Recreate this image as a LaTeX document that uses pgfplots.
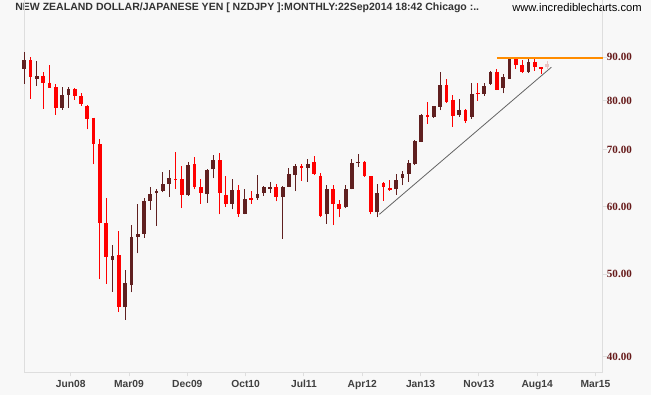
\documentclass[border=0pt]{standalone}
\usepackage{pgfplots}
\pgfplotsset{compat=1.18}
\usepackage{fontspec}
\setmainfont{Liberation Sans}
\newfontfamily\tickserif{Liberation Serif}
\definecolor{bull}{RGB}{96,32,32}
\definecolor{bear}{RGB}{255,0,0}
\definecolor{pale}{RGB}{232,196,196}
\definecolor{bg}{RGB}{248,248,248}
\definecolor{framec}{RGB}{222,222,222}
\definecolor{ylab}{RGB}{102,26,26}
\definecolor{xlab}{RGB}{64,64,64}
\definecolor{ttl}{RGB}{51,51,51}
\definecolor{res}{RGB}{255,140,0}
\definecolor{trend}{RGB}{100,100,100}
\begin{document}
\begin{tikzpicture}
\path[fill=bg, use as bounding box] (0,0) rectangle (488.25pt,296.25pt);
\node[anchor=base west, inner sep=0pt, text=ttl, font=\bfseries\fontsize{7.9}{9}\selectfont] at (11.25pt,288pt) {NEW ZEALAND DOLLAR/JAPANESE YEN [ NZDJPY ]:MONTHLY:22Sep2014 18:42 Chicago :..};
\node[anchor=base east, inner sep=0pt, text=black, font=\fontsize{8.4}{9}\selectfont] at (481.5pt,287.5pt) {www.incrediblecharts.com};
\begin{axis}[
  at={(18.225pt,17.025pt)}, anchor=south west,
  scale only axis, width=433.8pt, height=279.225pt,
  xmin=0, xmax=91.79, ymin=38.33, ymax=105.1,
  ymode=log,
  axis x line*=bottom, axis y line*=right,
  axis line style={draw=framec, line width=0.75pt},
  clip=false,
  unbounded coords=jump,
  xtick={7.364,16.618,25.872,35.126,44.380,53.634,62.888,72.142,81.396,90.650},
  xticklabels={Jun08,Mar09,Dec09,Oct10,Jul11,Apr12,Jan13,Nov13,Aug14,Mar15},
  ytick={40,50,60,70,80,90},
  yticklabels={40.00,50.00,60.00,70.00,80.00,90.00},
  yminorticks=false, xminorticks=false,
  tick style={draw=framec, line width=0.75pt},
  tick align=outside, major tick length=3pt,
  xticklabel style={font=\bfseries\fontsize{7.7}{8}\selectfont, text=xlab, inner sep=0pt, anchor=north, yshift=-2.6pt},
  yticklabel style={font=\tickserif\bfseries\fontsize{8.3}{9}\selectfont, text=ylab, anchor=west, inner sep=0pt},
]
\draw[framec, line width=0.75pt] (rel axis cs:0,0) -- (rel axis cs:0,1);
% bull wicks (low, high)
\addplot[bull, line width=0.75pt, mark=none] coordinates {
(0,83.8)(0,91.3)(0,nan) (2,83.3)(2,89.1)(2,nan) (6,78.1)(6,83.0)(6,nan) (7,78.5)(7,83.0)(7,nan)
(14,47.7)(14,54.1)(14,nan) (16,44.2)(16,50.5)(16,nan) (17,47.6)(17,57.1)(17,nan) (18,52.9)(18,60.4)(18,nan)
(19,55.2)(19,61.4)(19,nan) (20,59.5)(20,63.3)(20,nan) (21,57.0)(21,62.9)(21,nan) (22,62.4)(22,65.9)(22,nan)
(23,61.7)(23,66.3)(23,nan) (26,61.8)(26,67.7)(26,nan) (29,60.7)(29,66.4)(29,nan) (30,64.8)(30,69.1)(30,nan)
(33,59.6)(33,64.7)(33,nan) (35,58.8)(35,62.9)(35,nan) (37,61.2)(37,65.4)(37,nan) (38,61.8)(38,63.5)(38,nan)
(39,62.3)(39,64.2)(39,nan) (41,55.0)(41,63.5)(41,nan) (42,63.3)(42,66.7)(42,nan) (43,62.6)(43,67.4)(43,nan)
(45,64.2)(45,68.3)(45,nan) (48,57.3)(48,63.7)(48,nan) (51,59.8)(51,63.7)(51,nan) (52,62.9)(52,68.3)(52,nan)
(53,66.8)(53,69.2)(53,nan) (56,58.3)(56,63.9)(56,nan) (59,62.0)(59,65.6)(59,nan) (60,63.6)(60,66.1)(60,nan)
(61,64.2)(61,68.1)(61,nan) (62,67.2)(62,71.9)(62,nan) (63,71.5)(63,77.1)(63,nan) (65,76.4)(65,78.9)(65,nan)
(66,78.0)(66,86.5)(66,nan) (69,76.6)(69,80.4)(69,nan) (71,76.2)(71,83.9)(71,nan) (73,81.1)(73,84.0)(73,nan)
(74,83.5)(74,86.7)(74,nan) (76,81.6)(76,86.1)(76,nan) (77,84.8)(77,89.7)(77,nan) (80,86.2)(80,89.6)(80,nan)
};
% bear wicks
\addplot[bear, line width=0.75pt, mark=none] coordinates {
(1,80.4)(1,90.1)(1,nan) (3,78.3)(3,86.5)(3,nan) (4,82.9)(4,88.1)(4,nan) (5,77.0)(5,83.7)(5,nan)
(8,80.2)(8,82.8)(8,nan) (9,78.9)(9,81.7)(9,nan) (10,74.0)(10,79.0)(10,nan) (11,67.3)(11,76.4)(11,nan)
(12,49.3)(12,72.1)(12,nan) (13,48.7)(13,61.5)(13,nan) (15,45.1)(15,56.2)(15,nan) (24,63.0)(24,69.6)(24,nan)
(25,59.8)(25,67.0)(25,nan) (27,62.9)(27,68.7)(27,nan) (28,60.5)(28,64.7)(28,nan) (31,58.8)(31,69.4)(31,nan)
(32,60.0)(32,65.3)(32,nan) (34,58.4)(34,63.7)(34,nan) (36,60.5)(36,62.7)(36,nan) (40,60.9)(40,63.9)(40,nan)
(44,64.4)(44,67.3)(44,nan) (46,65.4)(46,68.9)(46,nan) (47,58.3)(47,65.7)(47,nan) (49,57.1)(49,63.6)(49,nan)
(50,58.3)(50,61.1)(50,nan) (54,65.1)(54,67.9)(54,nan) (55,58.8)(55,65.3)(55,nan) (57,61.0)(57,64.2)(57,nan)
(58,62.7)(58,64.6)(58,nan) (64,75.2)(64,79.7)(64,nan) (67,79.6)(67,84.9)(67,nan) (68,74.6)(68,81.3)(68,nan)
(70,75.3)(70,78.2)(70,nan) (72,80.0)(72,84.0)(72,nan) (75,82.3)(75,87.2)(75,nan) (78,87.2)(78,90.1)(78,nan)
(79,86.2)(79,89.3)(79,nan) (81,86.7)(81,89.8)(81,nan) (82,86.0)(82,87.6)(82,nan)
};
% pale (current month) wick
\addplot[pale, line width=0.75pt, mark=none] coordinates {(83,87.2)(83,89.1)};
% bull bodies (open, close)
\addplot[bull, line width=2.8pt, line cap=butt, mark=none] coordinates {
(0,87.2)(0,89.3)(0,nan) (2,84.9)(2,85.6)(2,nan) (6,78.5)(6,81.3)(6,nan) (7,81.3)(7,82.6)(7,nan)
(14,52.0)(14,52.5)(14,nan) (16,45.7)(16,48.8)(16,nan) (17,48.5)(17,55.3)(17,nan) (18,55.3)(18,55.8)(18,nan)
(19,55.8)(19,61.0)(19,nan) (20,61.0)(20,62.1)(20,nan) (21,62.3)(21,62.7)(21,nan) (22,62.7)(22,63.8)(22,nan)
(23,63.8)(23,64.9)(23,nan) (26,61.9)(26,67.2)(26,nan) (29,62.1)(29,66.3)(29,nan) (30,66.4)(30,68.1)(30,nan)
(33,60.5)(33,62.8)(33,nan) (35,58.9)(35,61.3)(35,nan) (37,61.4)(37,62.1)(37,nan) (38,62.3)(38,63.3)(38,nan)
(39,63.0)(39,63.4)(39,nan) (41,61.6)(41,63.4)(41,nan) (42,63.4)(42,65.6)(42,nan) (43,65.4)(43,67.0)(43,nan)
(45,66.7)(45,67.4)(45,nan) (48,58.8)(48,63.0)(48,nan) (51,59.9)(51,63.0)(51,nan) (52,63.0)(52,67.6)(52,nan)
(53,67.6)(53,67.8)(53,nan) (56,59.1)(56,62.3)(56,nan) (59,62.9)(59,64.5)(59,nan) (60,64.8)(60,65.6)(60,nan)
(61,65.6)(61,67.5)(61,nan) (62,67.3)(62,71.7)(62,nan) (63,71.6)(63,77.0)(63,nan) (65,76.5)(65,78.8)(65,nan)
(66,78.7)(66,83.5)(66,nan) (69,77.0)(69,78.1)(69,nan) (71,76.5)(71,81.5)(71,nan) (73,81.5)(73,83.3)(73,nan)
(74,83.7)(74,86.5)(74,nan) (76,82.7)(76,85.4)(76,nan) (77,84.9)(77,89.6)(77,nan) (80,86.5)(80,88.9)(80,nan)
};
% bear bodies (open, close)
\addplot[bear, line width=2.8pt, line cap=butt, mark=none] coordinates {
(1,89.3)(1,85.2)(1,nan) (3,85.6)(3,84.0)(3,nan) (4,84.0)(4,82.9)(4,nan) (5,83.0)(5,78.5)(5,nan)
(8,82.6)(8,81.1)(8,nan) (9,81.1)(9,79.4)(9,nan) (10,78.8)(10,76.2)(10,nan) (11,76.4)(11,71.2)(11,nan)
(12,71.1)(12,57.5)(12,nan) (13,57.4)(13,52.4)(13,nan) (15,52.6)(15,45.8)(15,nan) (24,64.7)(24,64.5)(24,nan)
(25,64.7)(25,61.9)(25,nan) (27,67.4)(27,63.4)(27,nan) (28,63.3)(28,62.3)(28,nan) (31,68.1)(31,62.3)(31,nan)
(32,62.0)(32,60.5)(32,nan) (34,62.8)(34,58.9)(34,nan) (36,61.4)(36,61.2)(36,nan) (40,63.3)(40,61.6)(40,nan)
(44,67.0)(44,66.7)(44,nan) (46,67.8)(46,65.5)(46,nan) (47,65.3)(47,58.6)(47,nan) (49,63.0)(49,60.5)(49,nan)
(50,60.5)(50,59.7)(50,nan) (54,67.8)(54,65.2)(54,nan) (55,65.2)(55,59.1)(55,nan) (57,64.0)(57,63.3)(57,nan)
(58,63.1)(58,62.8)(58,nan) (64,77.0)(64,76.5)(64,nan) (67,83.5)(67,79.8)(67,nan) (68,80.2)(68,76.8)(68,nan)
(70,78.1)(70,75.8)(70,nan) (72,81.7)(72,81.5)(72,nan) (75,86.5)(75,82.4)(75,nan) (78,89.6)(78,88.1)(78,nan)
(79,88.1)(79,86.5)(79,nan) (81,88.9)(81,87.6)(81,nan) (82,87.6)(82,87.2)(82,nan)
};
% pale body
\addplot[pale, line width=2.8pt, line cap=butt, mark=none] coordinates {(83,87.6)(83,88.3)};
% trend line and resistance line
\addplot[trend, line width=0.6pt, mark=none] coordinates {(56.35,58.8)(83.65,87.6)};
\addplot[res, line width=0.9pt, mark=none] coordinates {(75,89.8)(91.79,89.8)};
\end{axis}
\end{tikzpicture}
\end{document}
